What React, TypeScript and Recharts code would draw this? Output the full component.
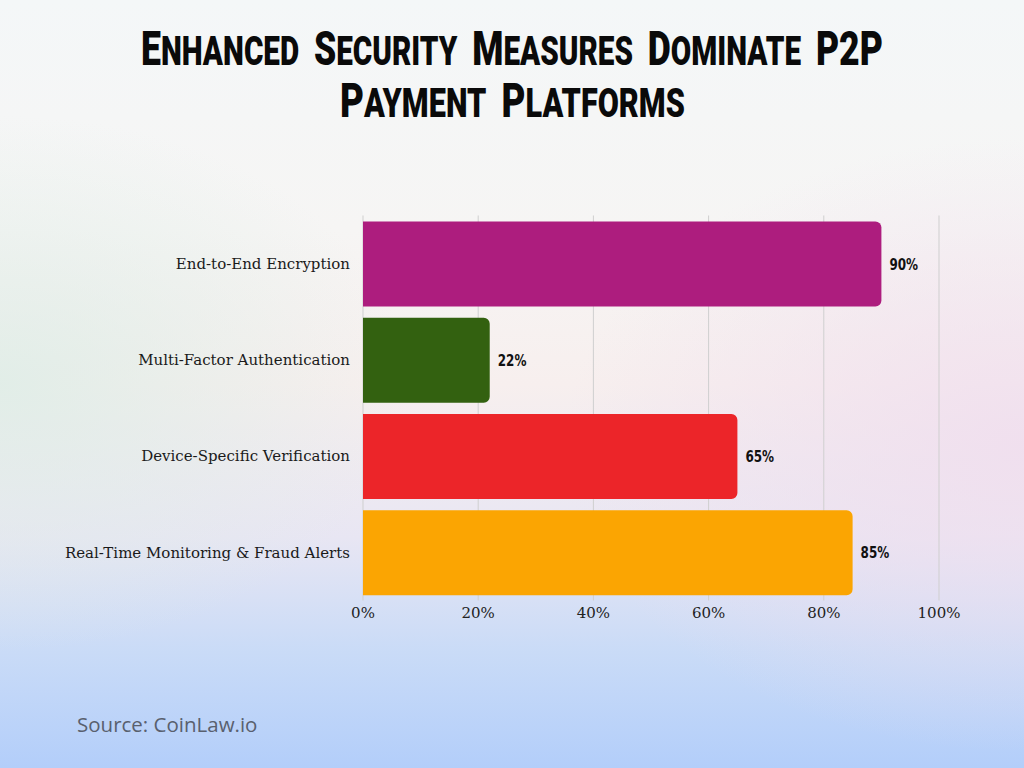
import React, { useLayoutEffect, useRef, useState } from "react";
import { BarChart, Bar, XAxis, YAxis, CartesianGrid, Cell, LabelList } from "recharts";

const categories = [
  "End-to-End Encryption",
  "Multi-Factor Authentication",
  "Device-Specific Verification",
  "Real-Time Monitoring & Fraud Alerts",
];
const values = [90, 22, 65, 85];
const colors = ["#AD1D7E", "#336110", "#EC2529", "#FBA502"];
const xTicks = [0, 20, 40, 60, 80, 100];

const titleLine1 = ["ENHANCED", "SECURITY", "MEASURES", "DOMINATE", "P2P"];
const titleLine2 = ["PAYMENT", "PLATFORMS"];

const data = categories.map((name, i) => ({ name, value: values[i] }));

function TitleLine({ words, y, x1, x2 }: { words: string[]; y: number; x1: number; x2: number }) {
  const ref = useRef<SVGTextElement>(null);
  const [scale, setScale] = useState(0.8);
  useLayoutEffect(() => {
    if (ref.current) {
      const w = ref.current.getBBox().width;
      if (w > 0) setScale((x2 - x1) / w);
    }
  }, [x1, x2]);
  const parts: React.ReactNode[] = [];
  words.forEach((w, wi) => {
    const allBig = /\d/.test(w);
    if (wi > 0) parts.push(<tspan key={`s${wi}`} fontSize={40}>{"\u00a0\u00a0"}</tspan>);
    if (allBig) {
      parts.push(<tspan key={`w${wi}`} fontSize={48}>{w}</tspan>);
    } else {
      parts.push(<tspan key={`f${wi}`} fontSize={48}>{w[0]}</tspan>);
      parts.push(<tspan key={`r${wi}`} fontSize={40}>{w.slice(1)}</tspan>);
    }
  });
  return (
    <g transform={`translate(${x1},${y}) scale(${scale},1)`}>
      <text
        ref={ref}
        x={0}
        y={0}
        fontFamily="Roboto, 'DejaVu Sans', sans-serif"
        fontWeight={900}
        fill="#0a0a0a"
      >
        {parts}
      </text>
    </g>
  );
}

const ValueLabel = (props: any) => {
  const { x, y, width, height, value } = props;
  const tx = Number(x) + Number(width) + 8;
  const ty = Number(y) + Number(height) / 2;
  return (
    <g transform={`translate(${tx},${ty}) scale(0.8,1)`}>
      <text
        x={0}
        y={0}
        dominantBaseline="central"
        fontFamily="'DejaVu Sans', sans-serif"
        fontWeight={700}
        fontSize={15}
        fill="#111"
      >
        {`${value}%`}
      </text>
    </g>
  );
};

export default function App() {
  return (
    <div
      style={{
        position: "fixed",
        left: 0,
        top: 0,
        width: 1024,
        height: 768,
        overflow: "hidden",
        background:
          "radial-gradient(ellipse 40% 35% at 0% 50%, rgba(220,237,230,0.8), rgba(220,237,230,0) 100%)," +
          "radial-gradient(ellipse 45% 40% at 100% 58%, rgba(240,222,238,0.9), rgba(240,222,238,0) 100%)," +
          "linear-gradient(to bottom, #f4f7f8 0%, #f6f5f4 30%, #f7efee 50%, #e8e6f3 70%, #c9dbf7 85%, #b3cefa 100%)",
      }}
    >
      <svg width={1024} height={140} style={{ position: "absolute", left: 0, top: 0 }}>
        <TitleLine words={titleLine1} y={65} x1={141} x2={883} />
        <TitleLine words={titleLine2} y={117} x1={340} x2={685} />
      </svg>
      <div style={{ position: "absolute", left: 0, top: 0 }}>
        <BarChart
          width={1024}
          height={768}
          data={data}
          layout="vertical"
          margin={{ top: 215.5, right: 85, bottom: 137.5, left: 0 }}
        >
          <CartesianGrid horizontal={false} vertical={true} stroke="#cfcfcf" strokeWidth={1} />
          <XAxis
            type="number"
            domain={[0, 100]}
            ticks={xTicks}
            tickFormatter={(v: number) => `${v}%`}
            axisLine={false}
            tickLine={false}
            tickMargin={1}
            height={30}
            tick={{ fontFamily: "'DejaVu Serif', serif", fontSize: 15, fill: "#222" }}
          />
          <YAxis
            type="category"
            dataKey="name"
            width={363}
            axisLine={false}
            tickLine={false}
            tickMargin={7}
            tick={{ fontFamily: "'DejaVu Serif', serif", fontSize: 15, fill: "#1a1a1a" }}
          />
          <Bar dataKey="value" barSize={85} radius={[0, 6, 6, 0]} isAnimationActive={false}>
            {data.map((d, i) => (
              <Cell key={d.name} fill={colors[i]} />
            ))}
            <LabelList dataKey="value" content={ValueLabel} />
          </Bar>
        </BarChart>
      </div>
      <div
        style={{
          position: "absolute",
          left: 77,
          top: 711,
          fontFamily: "'Open Sans', sans-serif",
          fontSize: 20.5,
          color: "#59606e",
          lineHeight: "26px",
        }}
      >
        Source: CoinLaw.io
      </div>
    </div>
  );
}
